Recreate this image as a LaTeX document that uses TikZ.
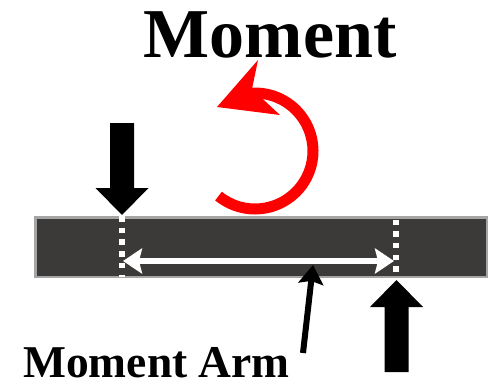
\documentclass[tikz,border=0pt]{standalone}
\usepackage{fontspec}
\setmainfont{Liberation Serif}
\usetikzlibrary{arrows.meta,positioning,calc}
\definecolor{beamfill}{RGB}{60,58,56}
\definecolor{beamedge}{RGB}{165,165,165}
\definecolor{momred}{RGB}{255,0,0}

\begin{document}
\begin{tikzpicture}[x=1pt, y=-1pt,
  force/.pic={\fill[black] (0,0) -- (26.5,-27) -- (12,-27) -- (12,-92)
    -- (-12,-92) -- (-12,-27) -- (-26.5,-27) -- cycle;},
  gap/.style={white, line width=6pt, dash pattern=on 5.5pt off 6.2pt},
  armhead/.tip={Stealth[length=19pt,width=25pt,inset=3pt]},
  arm/.style={white, line width=6pt, armhead-armhead},
  pointer/.style={black, line width=6pt, -armhead},
  titletext/.style={font=\bfseries\fontsize{70}{80}\selectfont, inner sep=0pt},
  armtextstyle/.style={font=\bfseries\fontsize{45.5}{52}\selectfont, inner sep=0pt}]
\useasboundingbox (0,0) rectangle (489,385);
% beam
\node[draw=beamedge, line width=2.5pt, fill=beamfill, minimum width=451.5pt,
  minimum height=59.5pt, inner sep=0pt] (beam) at (261,247) {};
\draw[gap] (122,216) -- (122,277);
\draw[gap] (396,219.5) -- (396,273);
% moment arm
\coordinate (armL) at (123,261);
\coordinate (armR) at (394,261);
\draw[arm] (armL) -- (armR);
% loads
\pic at (122,215) {force};
\pic[rotate=180] at (396.5,280) {force};
% moment
\coordinate (pivot) at (255,151);
\draw[momred, line width=11pt] (pivot) ++(129:58)
  arc[start angle=129, end angle=-93, radius=58];
\fill[momred] (217,107) -- (258,60) -- (252,89) -- (280,115) -- cycle;
% labels
\node[titletext, anchor=base] (title) at (270,58) {Moment};
\node[armtextstyle, anchor=base west] (armtext) at (23,377) {Moment Arm};
\coordinate (armfoot) at (303,353);
\coordinate (armtip) at (313,265);
\draw[pointer] (armfoot) -- (armtip);
\end{tikzpicture}
\end{document}
